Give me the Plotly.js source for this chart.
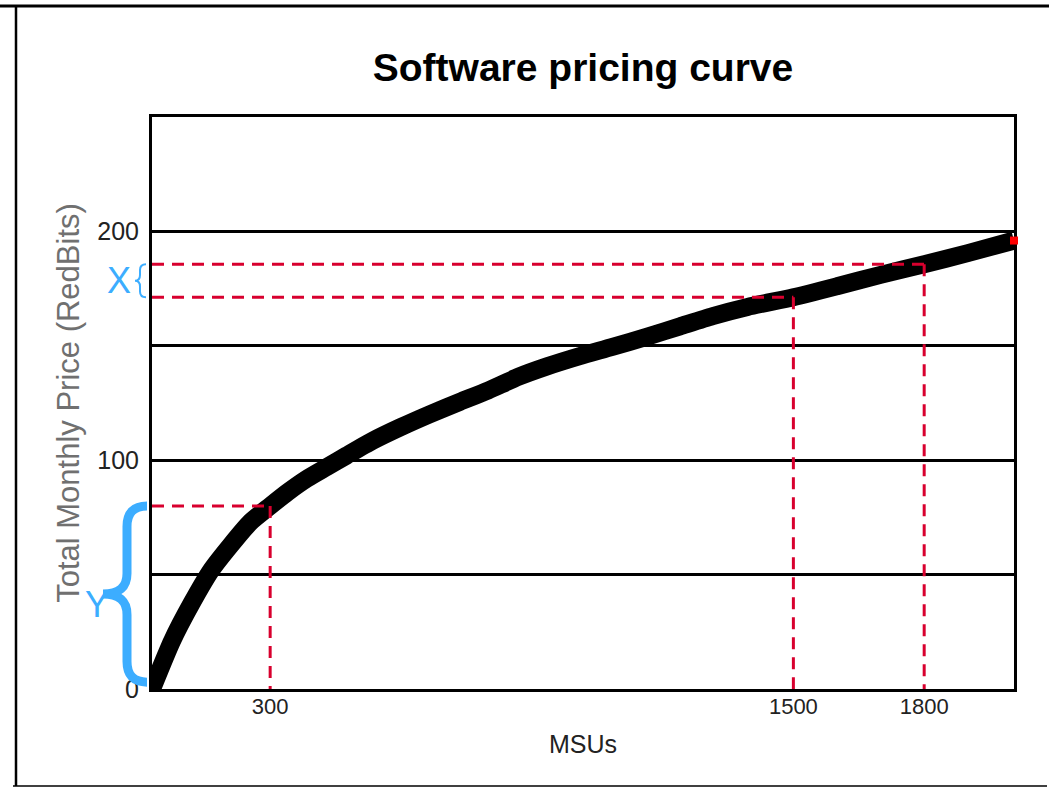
<!DOCTYPE html>
<html>
<head>
<meta charset="utf-8">
<script src="https://cdn.plot.ly/plotly-3.0.1.min.js"></script>
<style>
  html, body { margin: 0; padding: 0; background: #fff; }
  #chart { width: 1049px; height: 787px; }
</style>
</head>
<body>
<div id="chart"></div>
<script>
// Pricing curve: total monthly price against MSU capacity
const msu   = [29, 75, 120, 165, 210, 255, 300, 340, 385, 430, 475, 535, 600, 665, 735, 800, 870, 935, 1010, 1085, 1165, 1240, 1315, 1395, 1500, 1600, 1700, 1800, 1900, 2006];
const price = [0, 21, 37.5, 52, 63, 73, 80, 86, 92, 97, 102, 108.5, 114.5, 120, 125.5, 130.5, 136.5, 141, 145.5, 149.5, 154, 158.5, 163, 167, 171.2, 176, 181, 185.6, 190.5, 196];

// Reference capacities and the prices they map to
const markMsu   = [300, 1500, 1800];
const markPrice = [80, 171.2, 185.6];

// Axis ticks
const xTickVals = [300, 1500, 1800];
const xTickText = ['300', '1500', '1800'];
const yTickVals = [0, 50, 100, 150, 200];
const yTickText = ['0', '', '100', '', '200'];

const X_RANGE = [29, 2006];
const Y_RANGE = [0, 250];

// Layout geometry in pixels
const W = 1049, H = 787;
const M = { l: 152, r: 35, t: 117, b: 98 };
const PW = W - M.l - M.r, PH = H - M.t - M.b;
const px = v => (v - M.l) / PW;          // pixel column -> paper x
const py = v => (H - M.b - v) / PH;      // pixel row -> paper y
const pyData = v => (H - M.b - v) / PH * (Y_RANGE[1] - Y_RANGE[0]) + Y_RANGE[0];

const RED = '#d8002e';
const BLUE = '#3cadff';
const SANS = '"Liberation Sans", Arial, sans-serif';

// Dashed guide lines: horizontal from the axis to each point, vertical down to zero
const guideX = [], guideY = [];
markMsu.forEach((m, i) => {
  guideX.push(X_RANGE[0], m, null, m, m, null);
  guideY.push(markPrice[i], markPrice[i], null, markPrice[i], Y_RANGE[0], null);
});

const traces = [
  {
    type: 'scatter', mode: 'lines', x: msu, y: price,
    line: { color: '#000', width: 18, shape: 'spline', smoothing: 0.6 },
    hoverinfo: 'x+y', showlegend: false
  },
  {
    type: 'scatter', mode: 'lines', x: guideX, y: guideY,
    line: { color: RED, width: 3, dash: '12px,8px' },
    connectgaps: false, hoverinfo: 'skip', showlegend: false
  },
  {
    type: 'scatter', mode: 'markers',
    x: [msu[msu.length - 1]], y: [price[price.length - 1]],
    marker: { color: '#ff0000', symbol: 'square', size: 8 },
    cliponaxis: false, hoverinfo: 'skip', showlegend: false
  }
];

// Curly brace path: x in paper units, y in data units
function brace(xEnd, xStem, xTip, yLo, yHi, r) {
  const yMid = (yLo + yHi) / 2;
  return `M ${xEnd},${yHi} Q ${xStem},${yHi} ${xStem},${yHi - r}` +
         ` L ${xStem},${yMid + r}` +
         ` Q ${xStem},${yMid} ${xTip},${yMid}` +
         ` Q ${xStem},${yMid} ${xStem},${yMid - r}` +
         ` L ${xStem},${yLo + r}` +
         ` Q ${xStem},${yLo} ${xEnd},${yLo}`;
}

const shapes = [
  // outer frame
  { type: 'line', xref: 'paper', yref: 'paper', x0: px(0), x1: px(W), y0: py(6), y1: py(6),
    line: { color: '#000', width: 3 } },
  { type: 'line', xref: 'paper', yref: 'paper', x0: px(16), x1: px(16), y0: py(5), y1: py(786),
    line: { color: '#000', width: 2.5 } },
  { type: 'line', xref: 'paper', yref: 'paper', x0: px(13), x1: px(1047), y0: py(786), y1: py(786),
    line: { color: '#000', width: 1.5 } },
  // brace spanning the price at 300 MSUs
  { type: 'path', xref: 'paper', yref: 'y',
    path: brace(px(147), px(127), px(103), Y_RANGE[0] + 3, markPrice[0], 9),
    line: { color: BLUE, width: 9 } },
  // brace spanning the price step between 1500 and 1800 MSUs
  { type: 'path', xref: 'paper', yref: 'y',
    path: brace(px(146), px(140), px(135), markPrice[1], markPrice[2], 2.5),
    line: { color: BLUE, width: 2 } }
];

const annotations = [
  { xref: 'paper', yref: 'y', x: px(119), y: (markPrice[1] + markPrice[2]) / 2,
    text: 'X', showarrow: false, xanchor: 'center', yanchor: 'middle',
    font: { family: SANS, size: 36, color: BLUE } },
  { xref: 'paper', yref: 'y', x: px(97), y: pyData(604),
    text: 'Y', showarrow: false, xanchor: 'center', yanchor: 'middle',
    font: { family: SANS, size: 36, color: BLUE } }
];

const layout = {
  width: W, height: H,
  margin: M,
  paper_bgcolor: '#fff', plot_bgcolor: '#fff',
  showlegend: false,
  title: {
    text: '<b>Software pricing curve</b>',
    x: 0.5, xref: 'paper', y: 1 - 67 / H, yref: 'container', yanchor: 'middle',
    font: { family: SANS, size: 39, color: '#000' }
  },
  xaxis: {
    range: X_RANGE, tickmode: 'array', tickvals: xTickVals, ticktext: xTickText,
    showgrid: false, zeroline: false,
    showline: true, mirror: true, linecolor: '#000', linewidth: 3,
    ticks: '', layer: 'below traces', ticklabelstandoff: -4,
    tickfont: { family: SANS, size: 22, color: '#222' },
    title: { text: 'MSUs', font: { family: SANS, size: 25, color: '#222' }, standoff: 18 }
  },
  yaxis: {
    range: Y_RANGE, tickmode: 'array', tickvals: yTickVals, ticktext: yTickText,
    showgrid: true, gridcolor: '#000', gridwidth: 3, zeroline: false,
    showline: true, mirror: true, linecolor: '#000', linewidth: 3,
    ticks: '', layer: 'below traces', ticklabelstandoff: 5,
    tickfont: { family: SANS, size: 25, color: '#222' },
    title: { text: 'Total Monthly Price (RedBits)', font: { family: SANS, size: 31, color: '#707070' }, standoff: 9 }
  },
  shapes: shapes,
  annotations: annotations
};

Plotly.newPlot('chart', traces, layout, { displayModeBar: false, staticPlot: true });
</script>
</body>
</html>
